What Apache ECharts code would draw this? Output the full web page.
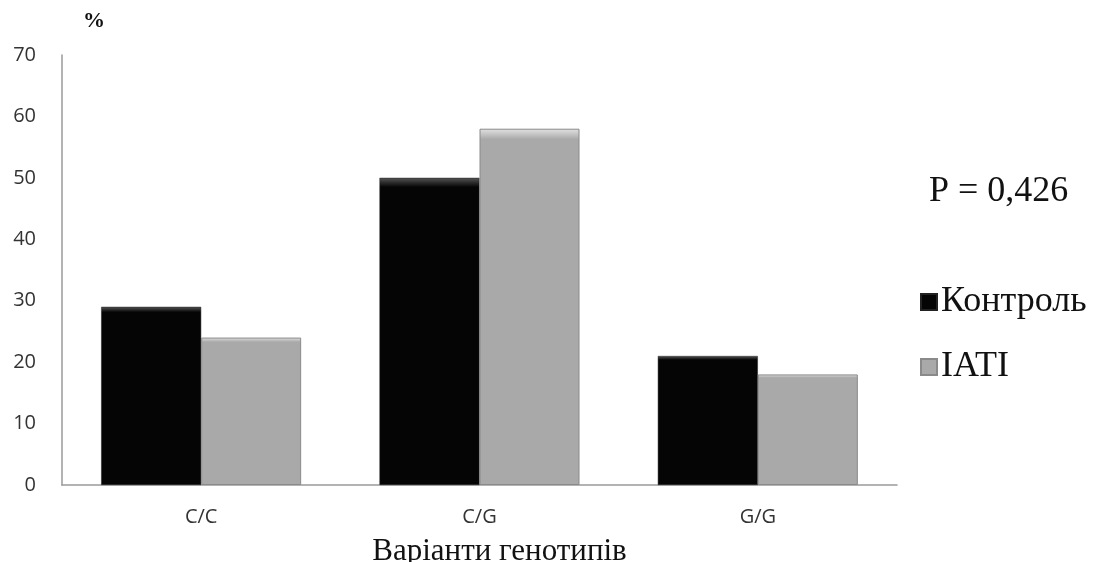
<!DOCTYPE html>
<html>
<head>
<meta charset="utf-8">
<script src="https://cdn.jsdelivr.net/npm/echarts@6/dist/echarts.min.js"></script>
<style>
html,body{margin:0;padding:0;background:#fff;}
#chart{width:1096px;height:562px;}
</style>
</head>
<body>
<div id="chart"></div>
<script>
var categories = ['C/C', 'C/G', 'G/G'];
var seriesNames = ['Контроль', 'IATI'];
var controlValues = [29, 50, 21];
var iatiValues = [24, 58, 18];
var yTicks = {min: 0, max: 70, interval: 10};

var chart = echarts.init(document.getElementById('chart'));
function barColor(base, top) {
  return {
    type: 'linear', x: 0, y: 0, x2: 0, y2: 1,
    colorStops: [
      {offset: 0, color: top},
      {offset: 0.03, color: base},
      {offset: 1, color: base}
    ]
  };
}
chart.setOption({
  animation: false,
  backgroundColor: '#fff',
  grid: {left: 62, right: 199, top: 55, bottom: 77, containLabel: false, outerBoundsMode: 'none'},
  title: {
    text: 'P = 0,426', left: 924, top: 167,
    textStyle: {fontFamily: 'Liberation Serif', fontSize: 36, fontWeight: 'normal', color: '#111', lineHeight: 40}
  },
  graphic: [{
    type: 'text', left: 83, top: 10,
    style: {text: '%', font: 'bold 22px "Liberation Serif"', fill: '#111'}
  }],
  legend: {
    orient: 'vertical', left: 915, top: 278,
    itemWidth: 16, itemHeight: 16, itemGap: 27,
    icon: 'rect',
    textStyle: {fontFamily: 'Liberation Serif', fontSize: 36, lineHeight: 38, color: '#111', padding: [0, 0, 0, -1]},
    data: seriesNames
  },
  xAxis: {
    type: 'category', data: categories,
    name: 'Варіанти генотипів', nameLocation: 'middle', nameGap: 51,
    nameTextStyle: {fontFamily: 'Liberation Serif', fontSize: 31, color: '#111', padding: [0, 0, 0, 40]},
    axisLine: {lineStyle: {color: '#9a9a9a', width: 1.5}},
    axisTick: {show: false},
    axisLabel: {fontFamily: 'Open Sans', fontSize: 20, color: '#333', margin: 22}
  },
  yAxis: {
    type: 'value', min: yTicks.min, max: yTicks.max, interval: yTicks.interval,
    axisLine: {show: true, lineStyle: {color: '#9a9a9a', width: 1.5}},
    axisTick: {show: false},
    splitLine: {show: false},
    axisLabel: {fontFamily: 'Open Sans', fontSize: 20, color: '#333', margin: 26}
  },
  series: [
    {
      name: seriesNames[0], type: 'bar', data: controlValues,
      barWidth: 100, barGap: '0%',
      itemStyle: {color: barColor('#050505', '#555'), borderColor: '#222', borderWidth: 0.5}
    },
    {
      name: seriesNames[1], type: 'bar', data: iatiValues,
      barWidth: 100, barGap: '0%',
      itemStyle: {color: barColor('#a9a9a9', '#e2e2e2'), borderColor: '#8a8a8a', borderWidth: 1}
    }
  ]
});
</script>
</body>
</html>
